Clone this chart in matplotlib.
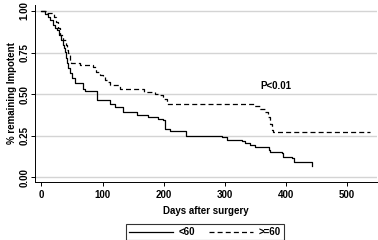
import matplotlib
matplotlib.use("Agg")
import matplotlib.pyplot as plt
from matplotlib.lines import Line2D

plt.rcParams['font.family'] = ['Liberation Sans', 'DejaVu Sans']

# <60 group (solid)
t_lt60 = [0, 6, 11, 14, 19, 22, 25, 29, 32, 35, 37, 38, 40, 42, 43, 47, 50, 55, 68, 72,
          91, 112, 120, 133, 156, 174, 191, 199, 202, 210, 236, 295, 303, 328, 333, 341,
          349, 372, 374, 394, 396, 410, 413, 442]
s_lt60 = [1.0, 0.98, 0.964, 0.946, 0.916, 0.898, 0.886, 0.856, 0.826, 0.796, 0.778, 0.754,
          0.718, 0.688, 0.658, 0.628, 0.598, 0.566, 0.53, 0.517, 0.463, 0.443, 0.423, 0.393,
          0.377, 0.363, 0.353, 0.343, 0.293, 0.280, 0.251, 0.245, 0.227, 0.22, 0.207, 0.193,
          0.182, 0.167, 0.153, 0.144, 0.124, 0.114, 0.094, 0.068]

# >=60 group (dashed)
t_ge60 = [0, 8, 20, 23, 27, 31, 35, 40, 42, 44, 47, 49, 63, 85, 90, 96, 101, 104, 109, 112,
          128, 153, 167, 186, 194, 199, 205, 347, 357, 366, 371, 374, 377, 379, 537]
s_ge60 = [1.0, 0.99, 0.966, 0.936, 0.898, 0.856, 0.826, 0.796, 0.766, 0.746, 0.696, 0.686,
          0.675, 0.665, 0.635, 0.613, 0.603, 0.583, 0.573, 0.553, 0.533, 0.529, 0.513, 0.503,
          0.493, 0.473, 0.443, 0.427, 0.41, 0.39, 0.363, 0.323, 0.283, 0.273, 0.273]

x_ticks = [0, 100, 200, 300, 400, 500]
y_ticks = [0.0, 0.25, 0.5, 0.75, 1.0]
y_tick_labels = ["0.00", "0.25", "0.50", "0.75", "1.00"]
legend_labels = ["<60", ">=60"]

fig = plt.figure(figsize=(3.78, 2.40), dpi=100)
ax = fig.add_axes([35/378, 1-182/240, (377-35)/378, (182-5)/240])

ax.set_xlim(-10.6, 549)
ax.set_ylim(-0.028, 1.036)

for y in y_ticks:
    ax.axhline(y, color='#d4d4d4', lw=1.0, zorder=0)

ax.step(t_lt60, s_lt60, where='post', color='black', lw=0.9, label=legend_labels[0])
ax.step(t_ge60, s_ge60, where='post', color='black', lw=0.9, linestyle=(0, (4, 2.5)),
        label=legend_labels[1])

ax.set_xticks(x_ticks)
ax.set_yticks(y_ticks)
ax.set_yticklabels(y_tick_labels, rotation=90, va='center')
ax.tick_params(axis='both', labelsize=7, length=3, width=0.7)
ax.tick_params(axis='y', pad=1)
ax.tick_params(axis='x', pad=3)
for lab in ax.get_xticklabels() + ax.get_yticklabels():
    lab.set_fontweight('bold')

for s in ['top', 'right']:
    ax.spines[s].set_visible(False)
for s in ['left', 'bottom']:
    ax.spines[s].set_linewidth(0.7)

ax.set_xlabel("Days after surgery", fontsize=7, fontweight='bold', labelpad=4)
ax.set_ylabel("% remaining Impotent", fontsize=7, fontweight='bold', labelpad=2)

ax.text(384, 0.549, "P<0.01", fontsize=7, fontweight='bold', ha='center', va='center')

handles = [Line2D([], [], color='black', lw=0.9),
           Line2D([], [], color='black', lw=0.9, linestyle=(0, (4, 2.5)))]
leg = fig.legend(handles, legend_labels, loc='center', bbox_to_anchor=(205/378, 1-232/240),
                 ncol=2, frameon=True, fancybox=False, fontsize=7, handlelength=4.5,
                 columnspacing=1.5, borderpad=0.3, handletextpad=0.6)
leg.get_frame().set_edgecolor('black')
leg.get_frame().set_linewidth(0.8)
for t in leg.get_texts():
    t.set_fontweight('bold')

fig.savefig("out.png", dpi=100)
